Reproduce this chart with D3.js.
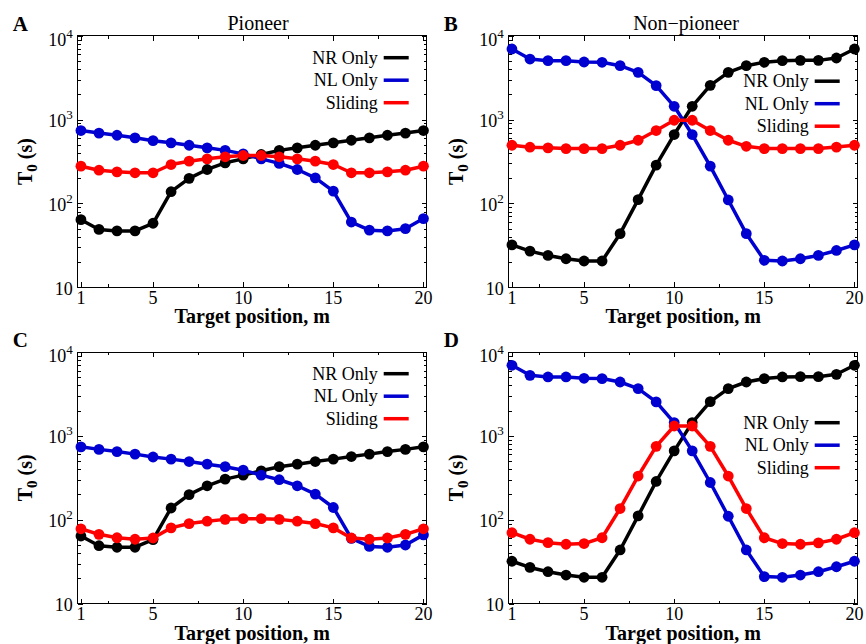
<!DOCTYPE html>
<html>
<head>
<meta charset="utf-8">
<script src="https://cdn.jsdelivr.net/npm/d3@7"></script>
<style>
  body { margin: 0; background: #fff; }
  svg { display: block; font-family: "Liberation Serif", "Times New Roman", serif; }
  .axis path, .axis line { stroke: #000; stroke-width: 1; }
</style>
</head>
<body>
<svg id="fig" width="866" height="644"></svg>
<script>
// target positions m = 1..20
const positions = [1, 2, 3, 4, 5, 6, 7, 8, 9, 10, 11, 12, 13, 14, 15, 16, 17, 18, 19, 20];

// pioneer (panels A, C)
const pioneerNR = [64, 49, 47, 47, 58, 138, 199, 254, 305, 340, 383, 429, 460, 494, 528, 567, 606, 650, 690, 740];
const pioneerNL = [740, 690, 650, 606, 560, 528, 494, 460, 429, 390, 340, 300, 254, 202, 140, 60, 48, 47, 50, 66];
const slidingA = [278, 249, 238, 232, 232, 291, 319, 340, 360, 373, 373, 360, 340, 319, 291, 232, 232, 238, 249, 278];
const slidingC = [78, 67, 61, 58.5, 60.6, 80, 90, 96, 101, 103, 103, 101, 96, 90, 80, 60.6, 58.5, 60.6, 67, 78];

// non-pioneer (panels B, D)
const nonPioneerNR = [32, 27, 24, 21.9, 20.6, 20.6, 43.6, 111, 286, 663, 1440, 2560, 3660, 4390, 4820, 5040, 5080, 5080, 5420, 6940];
const nonPioneerNL = [6940, 5270, 5040, 5040, 4860, 4820, 4390, 3660, 2540, 1440, 663, 278, 110, 43.6, 21, 20.6, 21.9, 24, 27.5, 32];
const slidingB = [494, 468, 460, 451, 451, 451, 494, 567, 740, 982, 982, 740, 567, 480, 451, 451, 451, 451, 470, 494];
const slidingD = [70, 58.5, 53.3, 51, 52, 61, 136, 332, 750, 1312, 1312, 750, 332, 136, 61, 52, 51, 53, 58.5, 70];

const seriesNames = ['NR Only', 'NL Only', 'Sliding'];
const seriesColors = ['#000000', '#0000d0', '#ff0000'];

const xMajor = [1, 5, 10, 15, 20];
const xMinor = [2.5, 7.5, 12.5, 17.5];
const yMajorExp = [1, 2, 3, 4];

const W = 349, H = 251.6;

const panels = [
  { letter: 'A', title: 'Pioneer', left: 77.7, top: 35.7, titleX: 258, data: [pioneerNR, pioneerNL, slidingA], legendTop: 22 },
  { letter: 'B', title: 'Non\u2212pioneer', left: 508.7, top: 35.7, titleX: 686, data: [nonPioneerNR, nonPioneerNL, slidingB], legendTop: 45.5 },
  { letter: 'C', title: null, left: 77.7, top: 352, data: [pioneerNR, pioneerNL, slidingC], legendTop: 21.7 },
  { letter: 'D', title: null, left: 508.7, top: 352, data: [nonPioneerNR, nonPioneerNL, slidingD], legendTop: 70.7 },
];

const svg = d3.select('#fig');

panels.forEach(p => {
  const x = d3.scaleLinear().domain([0.82, 20.18]).range([p.left, p.left + W]);
  const y = d3.scaleLog().domain([10, 10000]).range([p.top + H, p.top]);
  const g = svg.append('g');

  // ─── ticks (inward, mirrored) ───
  const yAll = y.ticks();
  const yMajor = yAll.filter(v => Math.abs(Math.log10(v) - Math.round(Math.log10(v))) < 1e-9);
  const yMinor = yAll.filter(v => !yMajor.includes(v));

  const addAxis = (axis, tx, ty) => {
    const a = g.append('g').attr('class', 'axis').attr('transform', `translate(${tx},${ty})`).call(axis);
    a.selectAll('text').remove();
    a.select('.domain').remove();
    a.attr('shape-rendering', 'crispEdges');
  };
  addAxis(d3.axisBottom(x).tickValues(xMajor).tickSize(-5), 0, p.top + H);
  addAxis(d3.axisBottom(x).tickValues(xMinor).tickSize(-3), 0, p.top + H);
  addAxis(d3.axisTop(x).tickValues(xMajor).tickSize(-5), 0, p.top);
  addAxis(d3.axisTop(x).tickValues(xMinor).tickSize(-3), 0, p.top);
  addAxis(d3.axisLeft(y).tickValues(yMajor).tickSize(-5), p.left, 0);
  addAxis(d3.axisLeft(y).tickValues(yMinor).tickSize(-3), p.left, 0);
  addAxis(d3.axisRight(y).tickValues(yMajor).tickSize(-5), p.left + W, 0);
  addAxis(d3.axisRight(y).tickValues(yMinor).tickSize(-3), p.left + W, 0);

  g.append('rect')
    .attr('x', p.left).attr('y', p.top).attr('width', W).attr('height', H)
    .attr('fill', 'none').attr('stroke', '#000').attr('stroke-width', 1)
    .attr('shape-rendering', 'crispEdges');

  // ─── tick labels ───
  g.selectAll('text.xl').data(xMajor).enter().append('text')
    .attr('x', d => x(d)).attr('y', p.top + H + 16.5)
    .attr('text-anchor', 'middle').attr('font-size', 18)
    .text(d => d);

  yMajorExp.forEach(e => {
    const t = g.append('text')
      .attr('x', p.left - 5).attr('y', y(Math.pow(10, e)) + (e === 4 ? 10 : 7.5))
      .attr('text-anchor', 'end').attr('font-size', 18)
      .text('10');
    if (e > 1) t.append('tspan').attr('dy', -8).attr('font-size', 13).text(e);
  });

  // ─── axis titles ───
  g.append('text')
    .attr('x', p.left + W / 2).attr('y', p.top + H + 36)
    .attr('text-anchor', 'middle').attr('font-size', 20).attr('font-weight', 'bold')
    .text('Target position, m');

  const yt = g.append('text')
    .attr('transform', `translate(${p.left - 46},${p.top + H / 2}) rotate(-90)`)
    .attr('text-anchor', 'middle').attr('font-size', 20).attr('font-weight', 'bold');
  yt.append('tspan').text('T');
  yt.append('tspan').attr('dy', 5).attr('font-size', 15).text('0');
  yt.append('tspan').attr('dy', -5).text(' (s)');

  if (p.title) {
    g.append('text').attr('x', p.titleX).attr('y', 30)
      .attr('text-anchor', 'middle').attr('font-size', 20).text(p.title);
  }
  g.append('text')
    .attr('x', p.left - 65).attr('y', p.top - 5)
    .attr('font-size', 21).attr('font-weight', 'bold')
    .text(p.letter);

  // ─── series ───
  const line = d3.line().x((d, i) => x(positions[i])).y(d => y(d));
  p.data.forEach((vals, si) => {
    g.append('path').datum(vals)
      .attr('d', line).attr('fill', 'none')
      .attr('stroke', seriesColors[si]).attr('stroke-width', 3.5)
      .attr('stroke-linejoin', 'round');
    g.selectAll(null).data(vals).enter().append('circle')
      .attr('cx', (d, i) => x(positions[i])).attr('cy', d => y(d))
      .attr('r', 5.4).attr('fill', seriesColors[si]);
  });

  // ─── legend ───
  seriesNames.forEach((name, si) => {
    const ly = p.top + p.legendTop + si * 22.5;
    g.append('text')
      .attr('x', p.left + W - 49).attr('y', ly).attr('dy', '0.33em')
      .attr('text-anchor', 'end').attr('font-size', 18)
      .text(name);
    g.append('line')
      .attr('x1', p.left + W - 43).attr('x2', p.left + W - 18)
      .attr('y1', ly).attr('y2', ly)
      .attr('stroke', seriesColors[si]).attr('stroke-width', 3.5);
  });
});
</script>
</body>
</html>
